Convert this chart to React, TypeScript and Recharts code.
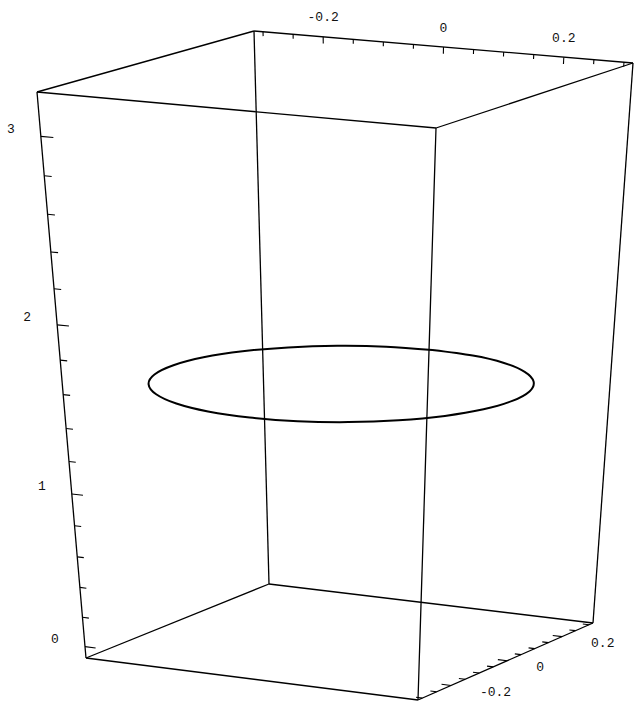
import { ComposedChart, Line, Scatter, XAxis, YAxis } from "recharts";

const W = 638;
const H = 702;

// plot box, data ranges with the usual padding
const boxX = [-0.315, 0.315];
const boxY = [-0.315, 0.315];
const boxZ = [-0.0785, 3.2201];

const xTicks = [-0.3, -0.25, -0.2, -0.15, -0.1, -0.05, 0, 0.05, 0.1, 0.15, 0.2, 0.25, 0.3];
const yTicks = [-0.3, -0.25, -0.2, -0.15, -0.1, -0.05, 0, 0.05, 0.1, 0.15, 0.2, 0.25, 0.3];
const zTicks = [0, 0.2, 0.4, 0.6, 0.8, 1, 1.2, 1.4, 1.6, 1.8, 2, 2.2, 2.4, 2.6, 2.8, 3];
const xLabels = [-0.2, 0, 0.2];
const yLabels = [-0.2, 0, 0.2];
const zLabels = [0, 1, 2, 3];

// the ring, r = 0.3 at z = pi/2 (starts and ends at the back point)
const ringX = [0, -0.078, -0.15, -0.212, -0.26, -0.29, -0.3, -0.29, -0.26, -0.212, -0.15, -0.078, 0, 0.078, 0.15, 0.212, 0.26, 0.29, 0.3, 0.29, 0.26, 0.212, 0.15, 0.078, 0];
const ringY = [0.3, 0.29, 0.26, 0.212, 0.15, 0.078, 0, -0.078, -0.15, -0.212, -0.26, -0.29, -0.3, -0.29, -0.26, -0.212, -0.15, -0.078, 0, 0.078, 0.15, 0.212, 0.26, 0.29, 0.3];
const ringZ = 1.5708;

// camera: where the 8 box corners land on the picture plane (key = x,y,z min/max)
const corner2d: Record<string, [number, number]> = {
  "000": [86, 658],
  "100": [418, 700],
  "010": [269, 584],
  "110": [593, 623],
  "001": [37, 92],
  "101": [436, 128],
  "011": [254, 31],
  "111": [633, 63],
};
// relative depth change across the box (perspective)
const depthSlope = [0, 0.04, -0.16];

const edges = [
  ["000", "100"], ["010", "110"], ["000", "010"], ["100", "110"],
  ["001", "101"], ["011", "111"], ["001", "011"], ["101", "111"],
  ["000", "001"], ["100", "101"], ["010", "011"], ["110", "111"],
];

function project(x: number, y: number, z: number) {
  const t = [
    (x - boxX[0]) / (boxX[1] - boxX[0]),
    (y - boxY[0]) / (boxY[1] - boxY[0]),
    (z - boxZ[0]) / (boxZ[1] - boxZ[0]),
  ];
  let nu = 0, nv = 0, den = 0;
  for (const key of Object.keys(corner2d)) {
    const b = key.split("").map(Number);
    let w = 1;
    let d = 1;
    for (let i = 0; i < 3; i++) {
      w *= b[i] ? t[i] : 1 - t[i];
      d += depthSlope[i] * b[i];
    }
    nu += w * d * corner2d[key][0];
    nv += w * d * corner2d[key][1];
    den += w * d;
  }
  return { u: nu / den, v: nv / den };
}

const cornerPoint = (key: string) => {
  const b = key.split("").map(Number);
  return project(boxX[b[0]], boxY[b[1]], boxZ[b[2]]);
};

type Seg = { id: string; pts: { u: number; v: number }[] };

const boxSegs: Seg[] = edges.map(([a, b]) => ({ id: `e${a}${b}`, pts: [cornerPoint(a), cornerPoint(b)] }));

// z ticks on the front left edge, pointing +x
const zSegs: Seg[] = zTicks.map((z) => {
  const len = zLabels.includes(z) ? 0.02 : 0.012;
  return { id: `z${z}`, pts: [project(boxX[0], boxY[0], z), project(boxX[0] + len, boxY[0], z)] };
});
// x ticks on the top back edge, pointing -z
const xSegs: Seg[] = xTicks.map((x) => {
  const len = xLabels.includes(x) ? 0.034 : 0.022;
  return { id: `x${x}`, pts: [project(x, boxY[1], boxZ[1]), project(x, boxY[1], boxZ[1] - len)] };
});
// y ticks on the bottom right edge, pointing -x
const ySegs: Seg[] = yTicks.map((y) => {
  const len = yLabels.includes(y) ? 0.018 : 0.012;
  return { id: `y${y}`, pts: [project(boxX[1], y, boxZ[0]), project(boxX[1] - len, y, boxZ[0])] };
});

const ringPts = ringX.map((x, i) => project(x, ringY[i], ringZ));

const zLabelPts = zLabels.map((z) => ({ ...project(boxX[0], boxY[0], z), label: String(z) }));
const xLabelPts = xLabels.map((x) => ({ ...project(x, boxY[1], boxZ[1]), label: String(x) }));
const yLabelPts = yLabels.map((y) => ({ ...project(boxX[1], y, boxZ[0]), label: String(y) }));

const font = { fontFamily: "'Liberation Mono', monospace", fontSize: 13, fill: "#111" };

const labelShape = (dx: number, dy: number, anchor: "start" | "middle" | "end") => (p: any) => (
  <text x={p.cx + dx} y={p.cy + dy} textAnchor={anchor} dominantBaseline="central" {...font}>
    {p.payload.label}
  </text>
);

export default function App() {
  return (
    <div style={{ position: "absolute", left: 0, top: 0, width: W, height: H, background: "#fff" }}>
      <ComposedChart width={W} height={H} margin={{ top: 0, right: 0, bottom: 0, left: 0 }}>
        <XAxis type="number" dataKey="u" domain={[0, W]} allowDataOverflow hide />
        <YAxis type="number" dataKey="v" domain={[0, H]} reversed allowDataOverflow hide />
        {boxSegs.map((s) => (
          <Line key={s.id} data={s.pts} dataKey="v" type="linear" stroke="#000" strokeWidth={1.3}
            dot={false} activeDot={false} isAnimationActive={false} />
        ))}
        {[...zSegs, ...xSegs, ...ySegs].map((s) => (
          <Line key={s.id} data={s.pts} dataKey="v" type="linear" stroke="#000" strokeWidth={1.1}
            dot={false} activeDot={false} isAnimationActive={false} />
        ))}
        <Line
          data={ringPts}
          dataKey="v"
          type="natural"
          stroke="#000"
          strokeWidth={2}
          dot={false}
          activeDot={false}
          isAnimationActive={false}
        />
        <Scatter data={zLabelPts} dataKey="v" shape={labelShape(-30, -7, "middle")} isAnimationActive={false} />
        <Scatter data={xLabelPts} dataKey="v" shape={labelShape(0, -19, "middle")} isAnimationActive={false} />
        <Scatter data={yLabelPts} dataKey="v" shape={labelShape(29, 7, "start")} isAnimationActive={false} />
      </ComposedChart>
    </div>
  );
}
